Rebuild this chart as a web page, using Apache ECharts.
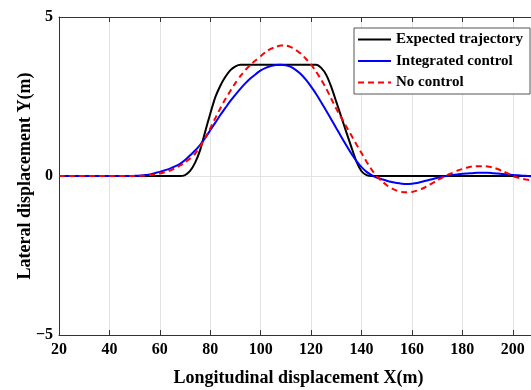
<!DOCTYPE html>
<html>
<head>
<meta charset="utf-8">
<script src="https://cdn.jsdelivr.net/npm/echarts@6/dist/echarts.min.js"></script>
<style>html,body{margin:0;padding:0;background:#fff}#c{width:531px;height:390px}</style>
</head>
<body>
<div id="c"></div>
<script>
const xs = [
  20,22,24,26,28,30,32,34,36,38,
  40,42,44,46,48,50,52,54,56,58,
  60,62,64,66,68,70,72,74,76,78,
  80,82,84,86,88,90,92,94,96,98,
  100,102,104,106,108,110,112,114,116,118,
  120,122,124,126,128,130,132,134,136,138,
  140,142,144,146,148,150,152,154,156,158,
  160,162,164,166,168,170,172,174,176,178,
  180,182,184,186,188,190,192,194,196,198,
  200,202,204,206,208,210
];
const expectedY = [
  0,0,0,0,0,0,0,0,0,0,
  0,0,0,0,0,0,0,0,0,0,
  0,0,0,0,0,0.03,0.16,0.42,0.82,1.4,
  1.96,2.48,2.84,3.12,3.33,3.45,3.5,3.5,3.5,3.5,
  3.5,3.5,3.5,3.5,3.5,3.5,3.5,3.5,3.5,3.5,
  3.5,3.5,3.4,3.18,2.8,2.33,1.85,1.37,0.9,0.45,
  0.15,0.03,0,0,0,0,0,0,0,0,
  0,0,0,0,0,0,0,0,0,0,
  0,0,0,0,0,0,0,0,0,0,
  0,0,0,0,0,0
];
const integratedY = [
  0,0,0,0,0,0,0,0,0,0,
  0,0,0,0,0,0.005,0.01,0.03,0.05,0.09,
  0.13,0.18,0.23,0.3,0.38,0.5,0.65,0.8,0.98,1.2,
  1.44,1.68,1.92,2.14,2.36,2.56,2.75,2.92,3.07,3.2,
  3.32,3.4,3.46,3.49,3.5,3.48,3.43,3.33,3.2,3.02,
  2.81,2.58,2.32,2.05,1.78,1.5,1.23,0.96,0.7,0.47,
  0.28,0.13,0.03,-0.05,-0.1,-0.15,-0.19,-0.22,-0.24,-0.25,
  -0.24,-0.22,-0.18,-0.14,-0.1,-0.06,-0.02,0.01,0.03,0.05,
  0.07,0.08,0.09,0.1,0.1,0.1,0.09,0.08,0.06,0.05,
  0.03,0.02,0.01,0,-0.01,-0.02
];
const noControlY = [
  0,0,0,0,0,0,0,0,0,0,
  0,0,0,0,0,0,0.005,0.01,0.03,0.05,
  0.08,0.12,0.17,0.24,0.33,0.43,0.55,0.7,0.93,1.2,
  1.5,1.82,2.13,2.42,2.68,2.93,3.15,3.34,3.5,3.64,
  3.77,3.9,4.0,4.06,4.1,4.1,4.05,3.96,3.84,3.68,
  3.5,3.28,3.03,2.75,2.43,2.11,1.83,1.55,1.27,0.99,
  0.72,0.45,0.2,0,-0.16,-0.29,-0.39,-0.46,-0.5,-0.51,
  -0.5,-0.46,-0.4,-0.32,-0.23,-0.14,-0.05,0.03,0.1,0.17,
  0.22,0.27,0.3,0.31,0.31,0.3,0.27,0.22,0.15,0.08,
  0,-0.05,-0.09,-0.12,-0.14,-0.15
];
const seriesNames = ['Expected trajectory', 'Integrated control', 'No control'];
const xTitle = 'Longitudinal displacement X(m)';
const yTitle = 'Lateral displacement Y(m)';

const font = 'Liberation Serif, Times New Roman, serif';
const axisColor = '#333';
const pair = (ys) => xs.map((x, i) => [x, ys[i]]);

const chart = echarts.init(document.getElementById('c'), null, {renderer: 'canvas'});
chart.setOption({
  animation: false,
  backgroundColor: '#fff',
  grid: {left: 59, top: 17, width: 479, height: 318, containLabel: false, outerBoundsMode: 'none'},
  legend: {
    orient: 'vertical', left: 354, top: 28,
    padding: [4, 7, 4, 3], itemWidth: 33, itemHeight: 14, itemGap: 6.5,
    backgroundColor: '#fff', borderColor: '#555', borderWidth: 1,
    itemStyle: {opacity: 0},
    textStyle: {fontFamily: font, fontWeight: 'bold', fontSize: 15, color: '#000'},
    data: seriesNames
  },
  xAxis: [{
    type: 'value', min: 20, max: 210, interval: 20, position: 'bottom',
    name: xTitle, nameLocation: 'middle', nameGap: 34,
    nameTextStyle: {fontFamily: font, fontWeight: 'bold', fontSize: 18, color: '#000'},
    axisLine: {show: true, onZero: false, lineStyle: {color: axisColor, width: 1}},
    axisTick: {show: true, inside: true, length: 5, lineStyle: {color: axisColor}},
    axisLabel: {margin: 7, showMaxLabel: false, fontFamily: font, fontWeight: 'bold', fontSize: 16, color: '#000'},
    splitLine: {show: true, lineStyle: {color: '#e3e3e3', width: 1}}
  }, {
    type: 'value', min: 20, max: 210, interval: 20, position: 'top',
    axisLine: {show: true, onZero: false, lineStyle: {color: axisColor, width: 1}},
    axisTick: {show: true, inside: true, length: 5, lineStyle: {color: axisColor}},
    axisLabel: {show: false}, splitLine: {show: false}
  }],
  yAxis: {
    type: 'value', min: -5, max: 5, interval: 5,
    name: yTitle, nameLocation: 'middle', nameGap: 25, nameMoveOverlap: false,
    nameTextStyle: {fontFamily: font, fontWeight: 'bold', fontSize: 18, color: '#000'},
    axisLine: {show: true, onZero: false, lineStyle: {color: axisColor, width: 1}},
    axisTick: {show: true, inside: true, length: 5, lineStyle: {color: axisColor}},
    axisLabel: {margin: 6, fontFamily: font, fontWeight: 'bold', fontSize: 16, color: '#000',
      formatter: v => v < 0 ? '\u2212' + Math.abs(v) : String(v)},
    splitLine: {show: true, lineStyle: {color: '#e3e3e3', width: 1}}
  },
  series: [
    {name: seriesNames[0], type: 'line', xAxisIndex: 0, data: pair(expectedY), symbol: 'none', smooth: 0.2,
     lineStyle: {color: '#000', width: 2}, itemStyle: {color: '#000'}, z: 2},
    {name: seriesNames[1], type: 'line', xAxisIndex: 0, data: pair(integratedY), symbol: 'none', smooth: 0.2,
     lineStyle: {color: '#0000ff', width: 2}, itemStyle: {color: '#0000ff'}, z: 3},
    {name: seriesNames[2], type: 'line', xAxisIndex: 0, data: pair(noControlY), symbol: 'none', smooth: 0.2,
     lineStyle: {color: '#ff0000', width: 2, type: [6, 4]}, itemStyle: {color: '#ff0000'}, z: 4}
  ]
});
</script>
</body>
</html>
